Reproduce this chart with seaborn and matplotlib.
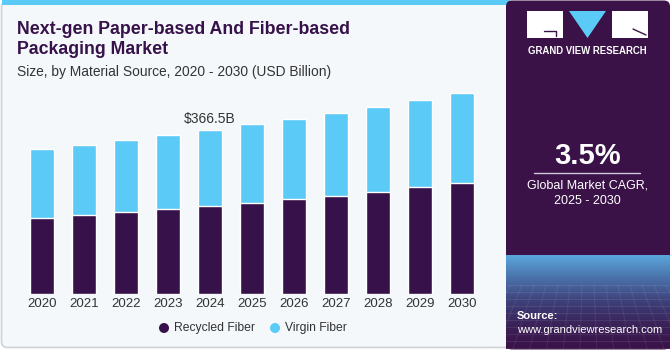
import matplotlib.pyplot as plt
import numpy as np
import pandas as pd
import seaborn as sns
from matplotlib.patches import FancyBboxPatch, Rectangle, Polygon, Circle

years = ["2020", "2021", "2022", "2023", "2024", "2025", "2026", "2027", "2028", "2029", "2030"]
recycled = [170.5, 176.6, 182.6, 190.0, 196.7, 203.4, 211.6, 219.7, 228.6, 238.4, 247.4]
virgin = [153.5, 156.4, 160.9, 165.0, 169.8, 175.6, 179.4, 184.8, 190.0, 195.2, 201.8]
label_year = "2024"
label_text = "$366.5B"

dark = "#371149"
blue = "#5bcaf7"
panel = "#f4f8fb"

df = pd.DataFrame({"year": years, "recycled": recycled, "virgin": virgin})
df["total"] = df["recycled"] + df["virgin"]

sns.set_theme(style="white")
plt.rcParams["font.family"] = ["Liberation Sans", "DejaVu Sans"]

fig = plt.figure(figsize=(6.71, 3.5), dpi=100)

# background layer in pixel coords
bg = fig.add_axes([0, 0, 1, 1])
bg.axis("off")
bg.add_patch(FancyBboxPatch((1.5, 1.5), 508, 346, boxstyle="round,pad=0,rounding_size=6",
                            fc=panel, ec="#cfd3d6", lw=1.2))
bg.add_patch(Rectangle((1.5, 0), 508, 4.5, fc=blue, ec="none"))
bg.add_patch(FancyBboxPatch((506, 0.5), 164, 349, boxstyle="round,pad=0,rounding_size=6",
                            fc="#3a1248", ec="none"))
# lower gradient of the side panel
grad = np.linspace(0, 1, 100)[:, None]
cmap = sns.blend_palette(["#3a1248", "#3a2258", "#3d3f78", "#4a6fa8", "#5aa6dc"], as_cmap=True)
bg.imshow(grad, extent=(506, 670, 255, 349), cmap=cmap, aspect="auto", zorder=1)
for yy in np.arange(285, 349, 7):
    bg.plot([506, 670], [yy, yy], color="white", alpha=0.08, lw=0.8, zorder=2)
for xx in np.arange(510, 670, 12):
    bg.plot([xx, 587 + (xx - 587) * 1.4], [285, 349], color="white", alpha=0.07, lw=0.8, zorder=2)
bg.set_xlim(0, 671)
bg.set_ylim(350, 0)

# logo
bg.add_patch(Rectangle((527, 11), 36, 27, fc="white", ec="none", zorder=3))
bg.add_patch(Polygon([(569, 11), (606, 11), (587.5, 38)], fc=blue, ec="none", zorder=3))
bg.add_patch(Rectangle((612, 11), 36, 27, fc="white", ec="none", zorder=3))
bg.plot([544, 556, 556], [31, 31, 36], color="#3a1248", lw=1, zorder=4)
bg.plot([633, 646], [29, 35], color="#3a1248", lw=1, zorder=4)
bg.text(587.5, 51, "GRAND VIEW RESEARCH", color="white", fontsize=6.9, fontweight="bold",
        ha="center", va="center", zorder=4)

bg.text(587.5, 156, "3.5%", color="white", fontsize=21, fontweight="bold", ha="center", va="center", zorder=4)
bg.plot([534, 640], [173, 173], color="#d0c8d8", lw=1, zorder=4)
bg.text(587.5, 186, "Global Market CAGR,", color="white", fontsize=9, ha="center", va="center", zorder=4)
bg.text(587.5, 201, "2025 - 2030", color="white", fontsize=9, ha="center", va="center", zorder=4)
bg.text(517, 316, "Source:", color="white", fontsize=8, fontweight="bold", ha="left", va="center", zorder=4)
bg.text(517, 330, "www.grandviewresearch.com", color="white", fontsize=8, ha="left", va="center", zorder=4)

# titles
bg.text(17, 29, "Next-gen Paper-based And Fiber-based", color=dark, fontsize=12.8,
        fontweight="heavy", ha="left", va="center")
bg.text(17, 50, "Packaging Market", color=dark, fontsize=12.8, fontweight="heavy", ha="left", va="center")
bg.text(17, 72, "Size, by Material Source, 2020 - 2030 (USD Billion)", color="#333333",
        fontsize=9.9, ha="left", va="center")

# legend
bg.add_patch(Circle((164, 328), 5, fc=dark, ec="none"))
bg.text(174, 328, "Recycled Fiber", color="#333333", fontsize=8.7, ha="left", va="center")
bg.add_patch(Circle((275, 328), 5, fc=blue, ec="none"))
bg.text(285, 328, "Virgin Fiber", color="#333333", fontsize=8.7, ha="left", va="center")

# main chart
ax = fig.add_axes([21 / 671, 56 / 350, 462 / 671, 0.639])
ax.patch.set_alpha(0)
sns.barplot(data=df, x="year", y="total", color=blue, width=0.57, saturation=1, ax=ax)
sns.barplot(data=df, x="year", y="recycled", color=dark, width=0.57, saturation=1, ax=ax)
ax.set_xlim(-0.5, 10.5)
ax.set_ylim(0, 500)
ax.set_xlabel("")
ax.set_ylabel("")
ax.set_yticks([])
ax.tick_params(axis="x", length=0, pad=3, labelsize=9.5, labelcolor="#333333")
sns.despine(ax=ax, left=True, bottom=True)

i = years.index(label_year)
ax.text(i, df["total"][i] + 10, label_text, ha="center", va="bottom", fontsize=10, color="#333333")

fig.savefig("out.png", dpi=100)
